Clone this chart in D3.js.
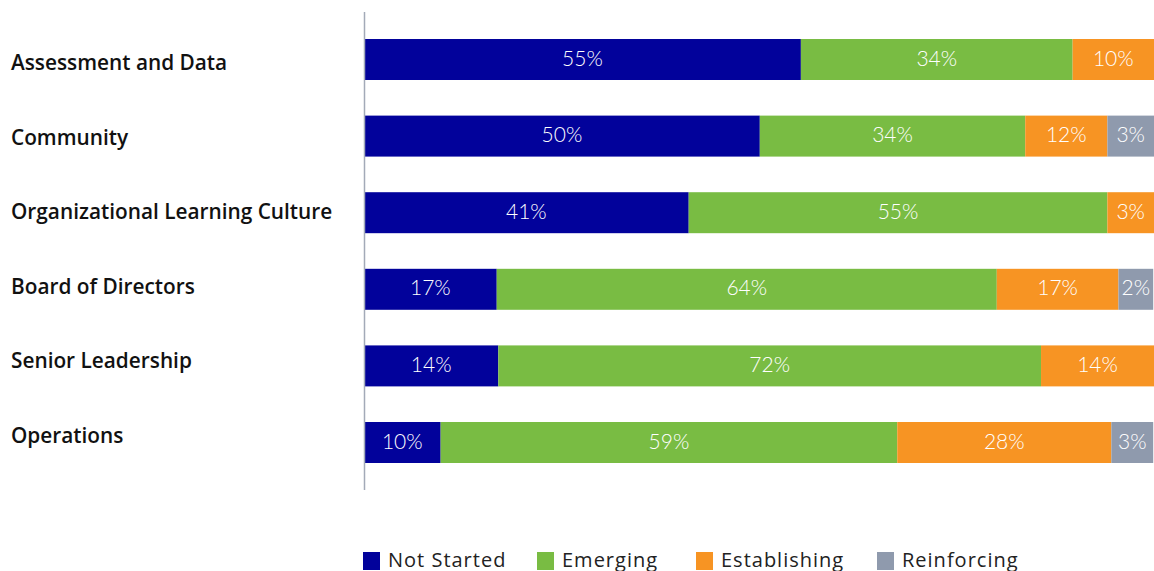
<!DOCTYPE html>
<html>
<head>
<meta charset="utf-8">
<script src="https://cdn.jsdelivr.net/npm/d3@7"></script>
<style>
  body { margin: 0; background: #fff; }
  svg { display: block; }
</style>
</head>
<body>
<div id="chart"></div>
<script>
var svgWidth = 1154;
var svgHeight = 571;

// categories, top to bottom
var categories = ["Assessment and Data", "Community", "Organizational Learning Culture",
  "Board of Directors", "Senior Leadership", "Operations"];
var seriesNames = ["Not Started", "Emerging", "Establishing", "Reinforcing"];
var seriesColors = ["#02029b", "#79bc43", "#f79423", "#8f9aad"];

// segment lengths as drawn (share of the full bar, %)
var notStarted  = [55.3, 50.1, 41.1, 16.8, 17.0, 9.7];
var emerging    = [34.4, 33.6, 53.0, 63.3, 68.7, 57.8];
var establishing = [10.3, 10.4, 5.9, 15.4, 14.3, 27.1];
var reinforcing = [0, 5.9, 0, 4.4, 0, 5.3];

// printed labels
var notStartedLbl   = ["55%", "50%", "41%", "17%", "14%", "10%"];
var emergingLbl     = ["34%", "34%", "55%", "64%", "72%", "59%"];
var establishingLbl = ["10%", "12%", "3%", "17%", "14%", "28%"];
var reinforcingLbl  = ["", "3%", "", "2%", "", "3%"];

var seriesValues = [notStarted, emerging, establishing, reinforcing];
var seriesLabels = [notStartedLbl, emergingLbl, establishingLbl, reinforcingLbl];

var svg = d3.select("#chart")
  .append("svg")
  .attr("width", svgWidth)
  .attr("height", svgHeight);

// build rows for the stack
var rows = categories.map(function(c, i) {
  var r = { cat: c };
  seriesNames.forEach(function(s, j) { r[s] = seriesValues[j][i]; });
  return r;
});

var stacked = d3.stack().keys(seriesNames)(rows);

var x = d3.scaleLinear()
  .domain([0, 100])
  .range([364, 1154]);

var y = d3.scaleBand()
  .domain(categories)
  .range([21.2, 480.8])
  .paddingInner(0.465)
  .paddingOuter(0.2325);

// labels are spaced a little tighter than the bars (baselines)
var yLabel = d3.scalePoint()
  .domain(categories)
  .range([70, 443]);

// category labels
svg.selectAll("text.cat")
  .data(categories)
  .enter()
  .append("text")
  .attr("class", "cat")
  .attr("x", 11)
  .attr("y", d => yLabel(d))
  .style("font", "600 20.8px 'Open Sans'")
  .style("fill", "#111")
  .text(d => d);

// bars
var layer = svg.selectAll("g.layer")
  .data(stacked)
  .enter()
  .append("g")
  .attr("class", "layer")
  .attr("fill", (d, i) => seriesColors[i]);

layer.selectAll("rect")
  .data(d => d.filter(p => p[1] - p[0] > 0))
  .enter()
  .append("rect")
  .attr("x", d => x(d[0]))
  .attr("y", d => y(d.data.cat))
  .attr("width", d => x(d[1]) - x(d[0]))
  .attr("height", y.bandwidth());

// value labels
stacked.forEach(function(s, j) {
  svg.append("g")
    .selectAll("text")
    .data(s.filter(p => p[1] - p[0] > 0))
    .enter()
    .append("text")
    .attr("x", d => (x(d[0]) + x(d[1])) / 2)
    .attr("y", d => y(d.data.cat) + y.bandwidth() / 2 + 6)
    .attr("text-anchor", "middle")
    .style("font", "300 21px Lato")
    .style("fill", "#fff")
    .text(d => seriesLabels[j][categories.indexOf(d.data.cat)]);
});

// vertical axis line
svg.append("line")
  .attr("x1", 364.5).attr("x2", 364.5)
  .attr("y1", 12).attr("y2", 490)
  .attr("stroke", "#a3aab8")
  .attr("stroke-width", 1.5);

// legend
var legendX = [363, 537, 696, 877];
var legend = svg.selectAll("g.legend")
  .data(seriesNames)
  .enter()
  .append("g")
  .attr("class", "legend")
  .attr("transform", (d, i) => `translate(${legendX[i]}, 552)`);

legend.append("rect")
  .attr("width", 17)
  .attr("height", 18)
  .attr("fill", (d, i) => seriesColors[i]);

legend.append("text")
  .attr("x", 25)
  .attr("y", 14.5)
  .style("font", "20px 'Open Sans'")
  .style("letter-spacing", "1px")
  .style("fill", "#222")
  .text(d => d);
</script>
</body>
</html>
